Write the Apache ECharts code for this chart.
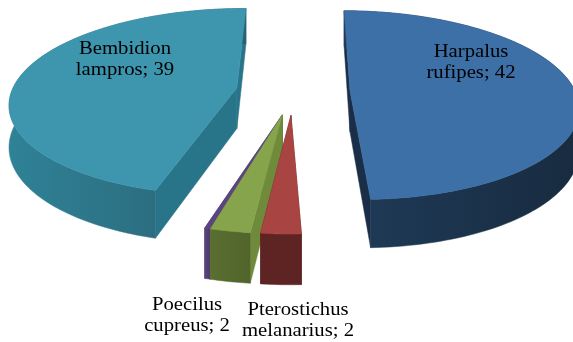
<!DOCTYPE html>
<html><head><meta charset="utf-8">
<style>html,body{margin:0;padding:0;background:#fff}#c{width:573px;height:342px}</style>
<script src="https://cdn.jsdelivr.net/npm/echarts@6/dist/echarts.min.js"></script>
</head><body><div id="c"></div>
<script>
const categories = ['Harpalus rufipes','Pterostichus melanarius','Poecilus cupreus','Other','Bembidion lampros'];
const values = [42, 2, 2, 0.3, 39];
const topColors = ['#3c70a7','#a84543','#86a44b','#5b4580','#3e96ae'];
const sideColors = ['#1a2f47','#5e2423','#6f8a3a','#4a3768','#28758a'];
const frontFrom = ['#1f3b58','#5e2423','#5a6e31','#5b4580','#2f8297'];
const frontTo = ['#182b40','#5e2423','#51652b','#4a3768','#2a6172'];
const labelLines = [['Harpalus','rufipes; 42'],['Pterostichus','melanarius; 2'],['Poecilus','cupreus; 2'],[],['Bembidion','lampros; 39']];
const labelAt = [[471,63],[298,321],[187,316],null,[125,60]];
const drawOrder = [4,0,3,2,1];
const explodeWith = [0,1,2,2,4];

const view = {cx:293, cy:91, R:225, tilt:0.41, persp:0.00068, explode:57, depth:41, start:0.5};
const total = values.reduce((a,b)=>a+b,0);
function proj(X,Y,z){const s=1/(1-view.persp*Y);return [view.cx+X*s, view.cy+Y*view.tilt*s+z*s];}
function span(i){
  let before = 0;
  for(let k=0;k<i;k++) before += values[k];
  return [(view.start + before/total*360)*Math.PI/180,(view.start + (before+values[i])/total*360)*Math.PI/180];
}
function renderItem(params, api){
  const i = drawOrder[params.dataIndex];
  const [a0,a1] = span(i);
  const e = span(explodeWith[i]);
  const m = (e[0]+e[1])/2;
  const ox = view.explode*Math.sin(m), oy = -view.explode*Math.cos(m);
  const pt = (r,a,z)=>api.coord(proj(ox+r*Math.sin(a), oy-r*Math.cos(a), z));
  const n = Math.max(4, Math.ceil((a1-a0)*40));
  const arcTop=[], arcBot=[];
  for(let k=0;k<=n;k++){const a=a0+(a1-a0)*k/n;arcTop.push(pt(view.R,a,0));arcBot.push(pt(view.R,a,view.depth));}
  const ap0=pt(0,0,0), ap1=pt(0,0,view.depth);
  const children=[];
  const poly=(points,fill)=>children.push({type:'polygon',shape:{points},style:{fill,stroke:fill,lineWidth:0.5},silent:true});
  poly([ap0,arcTop[0],arcBot[0],ap1],sideColors[i]);
  poly([ap0,arcTop[n],arcBot[n],ap1],sideColors[i]);
  poly(arcTop.concat(arcBot.slice().reverse()),new echarts.graphic.LinearGradient(0,0,1,0,[{offset:0,color:frontFrom[i]},{offset:1,color:frontTo[i]}]));
  poly([ap0].concat(arcTop),topColors[i]);
  if(labelAt[i]){
    const c=api.coord(labelAt[i]);
    children.push({type:'text',x:c[0],y:c[1],scaleX:1.15,silent:true,z2:10,style:{text:labelLines[i].join('\n'),fill:'#000',font:'18px "Liberation Serif"',align:'center',verticalAlign:'middle',lineHeight:21}});
  }
  return {type:'group',children};
}
const chart = echarts.init(document.getElementById('c'),null,{renderer:'canvas'});
chart.setOption({
  animation:false,
  backgroundColor:'#fff',
  grid:{left:0,right:0,top:0,bottom:0},
  xAxis:{type:'value',min:0,max:573,show:false},
  yAxis:{type:'value',min:0,max:342,inverse:true,show:false},
  series:[{type:'custom',coordinateSystem:'cartesian2d',clip:true,renderItem:renderItem,encode:{x:[],y:[]},dimensions:['name','value'],data:drawOrder.map(i=>[categories[i],values[i]])}]
});
</script></body></html>
